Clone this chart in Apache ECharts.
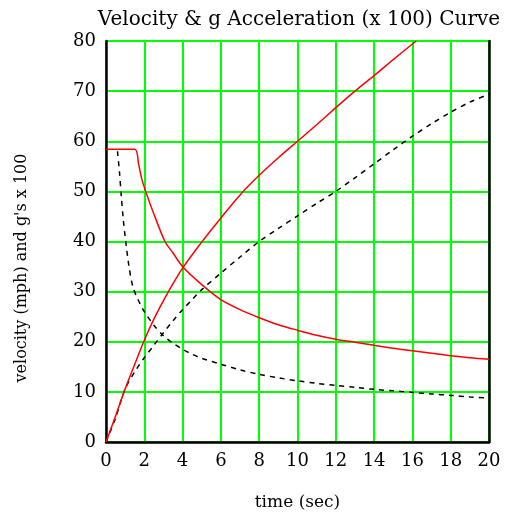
<!DOCTYPE html>
<html>
<head>
<meta charset="utf-8">
<script src="https://cdn.jsdelivr.net/npm/echarts@6/dist/echarts.min.js"></script>
<style>html,body{margin:0;padding:0;background:#fff}#c{width:515px;height:516px}</style>
</head>
<body>
<div id="c"></div>
<script>
// Velocity (red, solid, rising)
const velT = [0, 0.5, 1, 1.5, 2, 2.5, 3, 3.5, 4, 5, 6, 7, 8, 9, 10, 11, 12, 13, 14, 15, 16, 16.2];
const velV = [0, 5.2, 10.6, 15.5, 20.3, 24.5, 28.2, 31.6, 34.7, 39.9, 44.7, 49.3, 53.2, 56.7, 60, 63.3, 66.7, 70, 73.1, 76.3, 79.4, 80];
// g acceleration x100 (red, solid, decaying)
const accT = [0, 1.5, 1.7, 1.86, 2.07, 2.5, 3.08, 3.5, 4.04, 5, 6, 7, 8, 9, 10, 11, 12, 13, 14, 15, 16, 17, 18, 19, 20];
const accV = [58.4, 58.4, 55.5, 52.6, 50, 45.5, 40, 37.7, 34.8, 31.4, 28.4, 26.4, 24.8, 23.4, 22.3, 21.3, 20.5, 19.9, 19.3, 18.7, 18.2, 17.7, 17.2, 16.8, 16.5];
// Second velocity curve (black dashed, rising)
const vel2T = [0, 0.5, 1, 1.5, 2, 2.5, 3, 3.5, 4, 4.5, 5, 6, 7, 8, 9, 10, 11, 12, 13, 14, 15, 16, 17, 18, 19, 20];
const vel2V = [0, 4.8, 10.6, 14, 16.8, 19.3, 21.8, 24.2, 26.4, 28.4, 30.4, 33.7, 36.9, 40, 42.6, 45.1, 47.6, 50, 52.7, 55.5, 58.3, 61, 63.5, 65.8, 67.8, 69.4];
// Second g acceleration curve (black dashed, decaying)
const acc2T = [0.6, 0.7, 0.8, 0.9, 1.0, 1.2, 1.4, 1.6, 1.8, 2.0, 2.5, 3, 3.5, 4, 4.5, 5, 6, 7, 8, 9, 10, 11, 12, 13, 14, 15, 16, 17, 18, 19, 20];
const acc2V = [58, 54, 49, 44.5, 41, 35, 31, 29, 27.4, 26, 23.3, 21.2, 19.7, 18.5, 17.5, 16.7, 15.5, 14.4, 13.5, 12.8, 12.2, 11.7, 11.3, 10.9, 10.5, 10.2, 9.9, 9.6, 9.3, 9.0, 8.75];

const xTicks = {min: 0, max: 20, interval: 2};
const yTicks = {min: 0, max: 80, interval: 10};

const titleText = 'Velocity & g Acceleration (x 100) Curve';
const xName = 'time (sec)';
const yName = "velocity (mph) and g's x 100";

function pairs(t, v) { return t.map((x, i) => [x, v[i]]); }

const font = '"DejaVu Serif", serif';
const chart = echarts.init(document.getElementById('c'));
chart.setOption({
  animation: false,
  grid: {left: 106, right: 26, top: 41, bottom: 70, containLabel: false},
  xAxis: {
    type: 'value', min: xTicks.min, max: xTicks.max, interval: xTicks.interval,
    axisLine: {show: true, onZero: false, lineStyle: {color: '#000', width: 2.5}},
    axisTick: {show: false},
    splitLine: {show: true, lineStyle: {color: '#00ff00', width: 2}},
    axisLabel: {color: '#000', fontFamily: font, fontSize: 18, margin: 10},
    name: xName, nameLocation: 'middle', nameGap: 52,
    nameTextStyle: {color: '#000', fontFamily: font, fontSize: 17}
  },
  yAxis: [{
    type: 'value', min: yTicks.min, max: yTicks.max, interval: yTicks.interval,
    axisLine: {show: true, onZero: false, lineStyle: {color: '#000', width: 2.5}},
    axisTick: {show: false},
    splitLine: {show: true, lineStyle: {color: '#00ff00', width: 2}},
    axisLabel: {color: '#000', fontFamily: font, fontSize: 18, margin: 10}
  }, {
    type: 'value', min: yTicks.min, max: yTicks.max, interval: yTicks.interval, position: 'right',
    axisLine: {show: true, onZero: false, lineStyle: {color: '#000', width: 2.5}},
    axisTick: {show: false}, axisLabel: {show: false}, splitLine: {show: false}
  }],
  graphic: [
    {type: 'text', x: 299, y: 20, style: {text: titleText, fill: '#000', font: '20px ' + font, textAlign: 'center', textVerticalAlign: 'middle'}},
    {type: 'text', x: 22, y: 268, rotation: Math.PI / 2, style: {text: yName, fill: '#000', font: '16px ' + font, textAlign: 'center', textVerticalAlign: 'middle'}}
  ],
  series: [
    {type: 'line', data: pairs(velT, velV), showSymbol: false, smooth: 0.3, lineStyle: {color: '#ff0000', width: 1.5}, z: 5},
    {type: 'line', data: pairs(accT, accV), showSymbol: false, smooth: 0.3, lineStyle: {color: '#ff0000', width: 1.5}, z: 5},
    {type: 'line', data: pairs(vel2T, vel2V), showSymbol: false, smooth: 0.3, lineStyle: {color: '#000', width: 1.5, type: [5, 5]}, z: 4},
    {type: 'line', data: pairs(acc2T, acc2V), showSymbol: false, smooth: 0.3, lineStyle: {color: '#000', width: 1.5, type: [5, 5]}, z: 4}
  ]
});
</script>
</body>
</html>
